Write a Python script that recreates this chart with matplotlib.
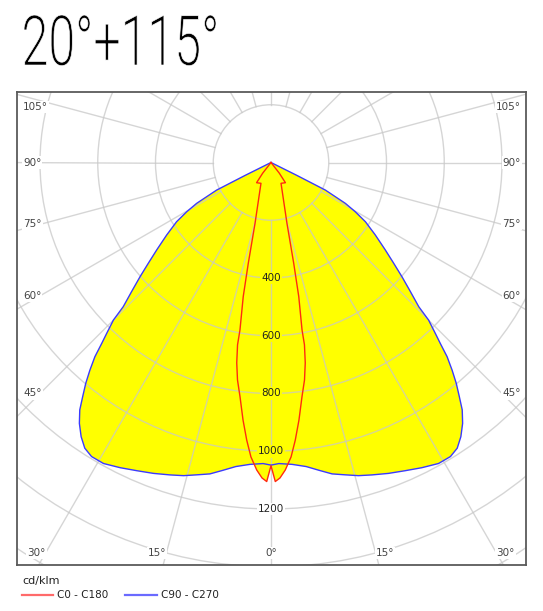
import numpy as np
import matplotlib.pyplot as plt
from matplotlib.patches import Circle, PathPatch
from matplotlib.lines import Line2D
from matplotlib.textpath import TextPath
from matplotlib.font_manager import FontProperties
from matplotlib.transforms import Affine2D

title = "20°+115°"
unit = "cd/klm"
names = ["C0 - C180", "C90 - C270"]

# half curves, angle from nadir (deg) -> cd/klm, mirrored for the other side
c90_angle = [0, 1.5, 4, 6.6, 9, 11.1, 13.4, 15.6, 17.9, 20.7, 23.5, 26.3, 29.1, 31.4, 33.1,
             34.7, 36.3, 37.7, 38.8, 40.0, 41.1, 42.2, 43.1, 43.9, 45.0, 45.7, 47.2, 48.9,
             50.6, 52.6, 55.2, 57.9, 59.7, 61.2, 62.0, 63.1, 63.5, 90]
c90_value = [1048, 1043, 1048, 1060, 1080, 1099, 1112, 1126, 1137, 1151, 1164, 1179, 1193, 1193, 1181,
             1155, 1121, 1083, 1041, 998, 954, 908, 858, 820, 772, 715, 658, 602,
             550, 498, 440, 386, 338, 294, 252, 211, 100, 0]

c0_angle = [0, 0.77, 1.63, 2.66, 3.9, 5.0, 6.2, 7.54, 8.76, 9.7, 10.4, 10.5, 11.7, 12.7, 14.7,
            21.8, 25.7, 35.5, 37.9, 90]
c0_value = [1050, 1105, 1093, 1066, 1022, 965, 897, 818, 762, 704, 642, 590, 474, 358, 218,
            103, 80, 86, 47, 0]

rings = [200, 400, 600, 800, 1000, 1200, 1400, 1600]
ring_labels = [400, 600, 800, 1000, 1200]
ray_angles = list(range(0, 360, 15))
label_angles = [0, 15, 30, 45, 60, 75, 90, 105]

W, H = 543, 611
k = 800 / 231.0          # cd per pixel
cx, cy = 271, 162.5      # pole in pixels
left, right, top, bottom = 17, 526, 92, 565


def to_xy(ang, val):
    a = np.radians(np.asarray(ang, float))
    v = np.asarray(val, float)
    return v * np.sin(a), -v * np.cos(a)


def mirror(ang, val):
    ang = np.asarray(ang, float)
    val = np.asarray(val, float)
    return np.r_[-ang[::-1], ang[1:]], np.r_[val[::-1], val[1:]]


fig = plt.figure(figsize=(W / 100, H / 100), dpi=100)
ax = fig.add_axes([left / W, 1 - bottom / H, (right - left) / W, (bottom - top) / H])
ax.set_xlim((left - cx) * k, (right - cx) * k)
ax.set_ylim(-(bottom - cy) * k, (cy - top) * k)
ax.set_xticks([])
ax.set_yticks([])
for s in ax.spines.values():
    s.set_color('#5a5a5a')
    s.set_linewidth(1.3)

blue_x, blue_y = to_xy(*mirror(c90_angle, c90_value))
red_x, red_y = to_xy(*mirror(c0_angle, c0_value))

ax.fill(blue_x, blue_y, color='#ffff00', lw=0, zorder=1)
ax.fill(red_x, red_y, color='#ffff00', lw=0, zorder=1)

# grid
for r in rings:
    ax.add_patch(Circle((0, 0), r, fill=False, ec='#c8c8c8', lw=1.0, alpha=0.75, zorder=2))
for a in ray_angles:
    x, y = to_xy([a, a], [rings[0], 2500])
    ax.plot(x, y, color='#c8c8c8', lw=1.0, alpha=0.75, zorder=2)

ax.plot(blue_x, blue_y, color='#3a3aff', lw=1.0, zorder=3)
ax.plot(red_x, red_y, color='#ff2a10', lw=1.0, zorder=4)

# radial value labels on the 0 deg ray
for r in ring_labels:
    face = '#ffff00' if r < c90_value[0] else 'white'
    ax.text(0, -r, str(r), ha='center', va='center', fontsize=7.5, color='#222222',
            zorder=5, bbox=dict(boxstyle='square,pad=0.12', fc=face, ec='none'))

# angle labels
xs = 231 * k
yb = -(bottom - 12 - cy) * k
ytop = (cy - top - 15) * k
for a in label_angles:
    t = np.radians(a)
    for side in ([1] if a == 0 else [-1, 1]):
        if a < 45:
            x = side * abs(yb) * np.tan(t)
            ha = 'center' if a == 0 else ('right' if side < 0 else 'left')
            ax.text(x, yb, f"{a}°", ha=ha, va='center', fontsize=7.5, color='#444444',
                    zorder=5, bbox=dict(boxstyle='square,pad=0.1', fc='white', ec='none'))
        else:
            y = min(-xs * np.cos(t) / np.sin(t), ytop)
            if side < 0:
                x, ha = (left + 6 - cx) * k, 'left'
            else:
                x, ha = (right - 5 - cx) * k, 'right'
            ax.text(x, y, f"{a}°", ha=ha, va='center', fontsize=7.5, color='#444444',
                    zorder=5, bbox=dict(boxstyle='square,pad=0.1', fc='white', ec='none'))

# title, condensed by scaling the glyph outlines, slightly thinned with a white edge
tp = TextPath((0, 0), title, size=100, prop=FontProperties(family='Roboto', weight=300))
ext = tp.get_extents()
tr = Affine2D().translate(-ext.x0, 0).scale(192 / ext.width, 50 / ext.y1).translate(24, H - 65)
fig.add_artist(PathPatch(tp, transform=tr, fc='black', ec='white', lw=0.45))

# legend
fig.text(22 / W, 1 - 581 / H, unit, fontsize=8, color='#222222', ha='left', va='center')
fig.add_artist(Line2D([22 / W, 53 / W], [1 - 595 / H] * 2, color='#ff6a6a', lw=1.6))
fig.text(57 / W, 1 - 595 / H, names[0], fontsize=7.5, color='#222222', ha='left', va='center')
fig.add_artist(Line2D([125 / W, 157 / W], [1 - 595 / H] * 2, color='#6a6aff', lw=1.6))
fig.text(161 / W, 1 - 595 / H, names[1], fontsize=7.5, color='#222222', ha='left', va='center')

fig.savefig('out.png', dpi=100)
